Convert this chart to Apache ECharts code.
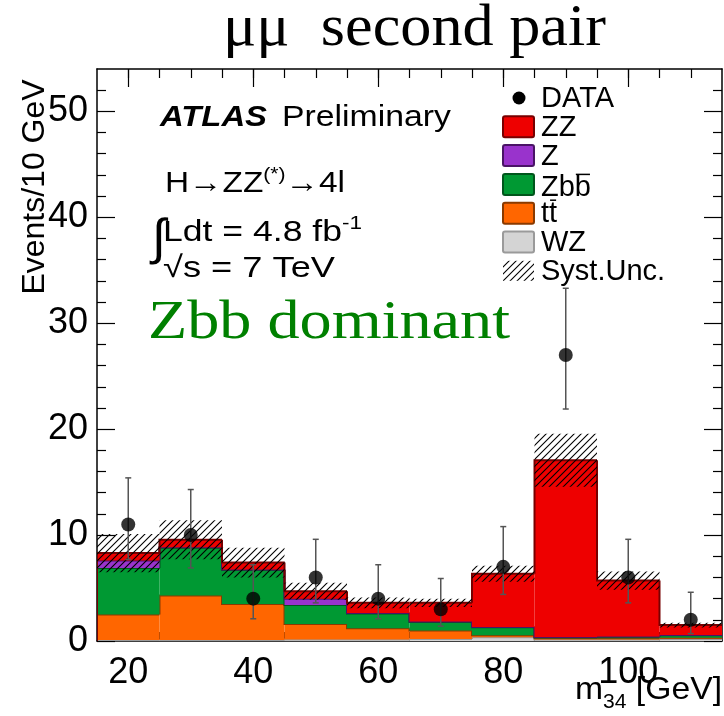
<!DOCTYPE html>
<html>
<head>
<meta charset="UTF-8">
<style>html,body{margin:0;padding:0;background:#fff;}</style>
</head>
<body>
<div id="chart_div" style="width:724px;height:716px;"></div>
<script src="https://cdn.jsdelivr.net/npm/echarts@6/dist/echarts.min.js"></script>
<script>
// bins of m34 (GeV)
var binCenters = [20, 30, 40, 50, 60, 70, 80, 90, 100, 110];
var binWidth = 10;

// expected events per bin
var wzEvents  = [0.1, 0.1, 0.1, 0.15, 0.15, 0.2, 0.35, 0.15, 0.15, 0.2];
var ttEvents  = [2.4, 4.2, 3.4, 1.45, 1.05, 0.8, 0.2, 0.1, 0.1, 0.1];
var zbbEvents = [4.4, 4.5, 3.2, 1.8, 1.4, 0.8, 0.75, 0.1, 0.15, 0.25];
var zEvents   = [0.7, 0.05, 0.05, 0.6, 0.05, 0.05, 0.02, 0.02, 0.02, 0.02];
var zzEvents  = [0.7, 0.71, 0.65, 0.7, 0.95, 1.75, 5.03, 16.7, 5.28, 0.93];
var systUnc   = [1.8, 1.84, 1.4, 0.8, 0.5, 0.4, 0.75, 2.5, 0.86, 0.23];

// observed data and error bar ends
var dataEvents = [11, 10, 4, 6, 4, 3, 7, 27, 6, 2];
var dataLow    = [7.7, 6.9, 2.1, 3.6, 2.1, 1.4, 4.4, 21.9, 3.6, 0.7];
var dataHigh   = [15.4, 14.3, 7.2, 9.6, 7.2, 5.9, 10.8, 33.3, 9.6, 4.6];

// ticks
var xLabels = [20, 40, 60, 80, 100];
var xMinor  = [20, 25, 30, 35, 40, 45, 50, 55, 60, 65, 70, 75, 80, 85, 90, 95, 100, 105, 110];
var yLabels = [0, 10, 20, 30, 40, 50];
var yMinor  = [2, 4, 6, 8, 12, 14, 16, 18, 22, 24, 26, 28, 32, 34, 36, 38, 42, 44, 46, 48, 52];

var SANS = '"Liberation Sans", Arial, sans-serif';
var SERIF = '"Liberation Serif", "Times New Roman", serif';

var myChart = echarts.init(document.getElementById('chart_div'));

// hatch pattern for the syst. band
var hatch = document.createElement('canvas');
hatch.width = 7; hatch.height = 7;
var hg = hatch.getContext('2d');
hg.strokeStyle = '#000'; hg.lineWidth = 1.1;
hg.beginPath();
hg.moveTo(0, 7); hg.lineTo(7, 0);
hg.moveTo(-1, 1); hg.lineTo(1, -1);
hg.moveTo(6, 8); hg.lineTo(8, 6);
hg.stroke();
var hatchFill = {image: hatch, repeat: 'repeat'};

// text measuring for the latex-like labels
var mctx = document.createElement('canvas').getContext('2d');
function textWidth(str, font) { mctx.font = font; return mctx.measureText(str).width; }

// pieces: [text, size, raise, style]
function textLine(pieces, x, baseline, width, family, color) {
	family = family || SANS;
	var fonts = pieces.map(p => (p[3] || '') + ' ' + p[1] + 'px ' + family);
	var natural = 0;
	pieces.forEach((p, i) => { natural += textWidth(p[0], fonts[i]); });
	var sx = width ? width / natural : 1;
	var out = [];
	pieces.forEach((p, i) => {
		out.push({
			type: 'text', x: x, y: baseline - p[2] - 0.35 * p[1], scaleX: sx, z: 100,
			style: {text: p[0], font: fonts[i], fill: color || '#000', textAlign: 'left', textVerticalAlign: 'middle'}
		});
		x += textWidth(p[0], fonts[i]) * sx;
	});
	return out;
}

// stacked components, bottom first
var components = [
	{name: 'WZ',  values: wzEvents,  fill: '#d4d4d4', line: '#9a9a9a'},
	{name: 'tt',  values: ttEvents,  fill: '#ff6600', line: '#8a3a00'},
	{name: 'Zbb', values: zbbEvents, fill: '#009933', line: '#00561c'},
	{name: 'Z',   values: zEvents,   fill: '#9933cc', line: '#4a1466'},
	{name: 'ZZ',  values: zzEvents,  fill: '#ee0000', line: '#780000'}
];

function stackItem(fill, line) {
	return function (params, api) {
		var c = api.value(0), lo = api.value(1), hi = api.value(2), prev = api.value(3);
		var a = api.coord([c - binWidth / 2, hi]);
		var b = api.coord([c + binWidth / 2, lo]);
		var p = api.coord([c - binWidth / 2, prev]);
		return {type: 'group', children: [
			{type: 'rect', shape: {x: a[0], y: a[1], width: b[0] - a[0], height: b[1] - a[1]}, style: {fill: fill}},
			{type: 'polyline', shape: {points: [[p[0], p[1]], [a[0], a[1]], [b[0], a[1]]]}, style: {stroke: line, lineWidth: 2, fill: null}}
		]};
	};
}

var series = [];
var base = binCenters.map(() => 0);
components.forEach(function (comp) {
	var top = base.map((v, i) => v + comp.values[i]);
	series.push({
		type: 'custom', name: comp.name, z: 2, clip: true,
		renderItem: stackItem(comp.fill, comp.line),
		data: binCenters.map((c, i) => [c, base[i], top[i], i > 0 ? top[i - 1] : 0])
	});
	base = top;
});
var total = base;

series.push({
	type: 'custom', name: 'Syst.Unc.', z: 3, clip: true,
	renderItem: function (params, api) {
		var a = api.coord([api.value(0) - binWidth / 2, api.value(2)]);
		var b = api.coord([api.value(0) + binWidth / 2, api.value(1)]);
		return {type: 'rect', shape: {x: a[0], y: a[1], width: b[0] - a[0], height: b[1] - a[1]}, style: {fill: hatchFill}};
	},
	data: binCenters.map((c, i) => [c, total[i] - systUnc[i], total[i] + systUnc[i]])
});

series.push({
	type: 'custom', name: 'errors', z: 4,
	renderItem: function (params, api) {
		var t = api.coord([api.value(0), api.value(2)]);
		var b = api.coord([api.value(0), api.value(1)]);
		var st = {stroke: '#555', lineWidth: 1.5};
		return {type: 'group', children: [
			{type: 'line', shape: {x1: t[0], y1: t[1], x2: b[0], y2: b[1]}, style: st},
			{type: 'line', shape: {x1: t[0] - 3, y1: t[1], x2: t[0] + 3, y2: t[1]}, style: st},
			{type: 'line', shape: {x1: b[0] - 3, y1: b[1], x2: b[0] + 3, y2: b[1]}, style: st}
		]};
	},
	data: binCenters.map((c, i) => [c, dataLow[i], dataHigh[i]])
});

series.push({
	type: 'scatter', name: 'DATA', z: 5, symbol: 'circle', symbolSize: 14,
	itemStyle: {color: '#000'},
	data: binCenters.map((c, i) => [c, dataEvents[i]])
});

function xAxisDef(pos, ticks, len, label) {
	return {
		type: 'value', position: pos, min: 15, max: 115,
		axisLine: {show: len > 10, onZero: false, lineStyle: {color: '#000', width: 1.5}},
		axisTick: {show: true, inside: true, length: len, customValues: ticks, lineStyle: {color: '#000', width: 1.2}},
		axisLabel: label ? {customValues: xLabels, fontSize: 36, fontFamily: SANS, color: '#000', margin: 14} : {show: false},
		splitLine: {show: false}
	};
}
function yAxisDef(pos, ticks, len, label) {
	return {
		type: 'value', position: pos, min: 0, max: 54,
		axisLine: {show: len > 10, onZero: false, lineStyle: {color: '#000', width: 1.5}},
		axisTick: {show: true, inside: true, length: len, customValues: ticks, lineStyle: {color: '#000', width: 1.2}},
		axisLabel: label ? {customValues: yLabels, fontSize: 36, fontFamily: SANS, color: '#000', margin: 9} : {show: false},
		splitLine: {show: false}
	};
}

// captions, axis titles and legend
var graphics = [];
graphics = graphics.concat(textLine([['μμ  second pair', 60, 0]], 223, 50, 383, SERIF));
graphics = graphics.concat(textLine([['Zbb dominant', 54, 0]], 148, 343, 362, SERIF, '#008000'));
graphics = graphics.concat(textLine([['ATLAS', 30, 0, 'italic bold']], 160, 128, 107));
graphics = graphics.concat(textLine([['Preliminary', 30, 0]], 282, 128, 169));
graphics = graphics.concat(textLine([['H→ZZ', 30, 0], ['(*)', 19, 13], ['→4l', 30, 0]], 165, 194, 180));
graphics = graphics.concat(textLine([['∫', 50, 0]], 152, 258, 0));
graphics = graphics.concat(textLine([['Ldt = 4.8 fb', 30, 0], ['-1', 19, 13]], 163, 243, 199));
graphics = graphics.concat(textLine([['√s = 7 TeV', 30, 0]], 163, 279, 172));
graphics = graphics.concat(textLine([['m', 32, 0], ['34', 20, -8], [' [GeV]', 32, 0]], 575, 701, 147));
graphics.push({
	type: 'text', x: 35, y: 187, rotation: Math.PI / 2, z: 100,
	style: {text: 'Events/10 GeV', font: '32px ' + SANS, fill: '#000', textAlign: 'center', textVerticalAlign: 'middle'}
});

var legendRows = [
	{label: 'DATA'},
	{label: 'ZZ', comp: 4},
	{label: 'Z', comp: 3},
	{label: 'Zbb', comp: 2},
	{label: 'tt', comp: 1},
	{label: 'WZ', comp: 0},
	{label: 'Syst.Unc.', hatch: true}
];
var legFont = '29px ' + SANS;
legendRows.forEach(function (row, i) {
	var cy = 98 + 28.8 * i;
	if (i === 0) {
		graphics.push({type: 'circle', shape: {cx: 519, cy: cy, r: 6.5}, style: {fill: '#000'}, z: 100});
	} else if (row.hatch) {
		graphics.push({type: 'rect', shape: {x: 503, y: cy - 10, width: 31, height: 20}, style: {fill: hatchFill}, z: 100});
	} else {
		var comp = components[row.comp];
		graphics.push({type: 'rect', shape: {x: 503, y: cy - 10.5, width: 31, height: 21, r: 2},
			style: {fill: comp.fill, stroke: comp.line, lineWidth: 2}, z: 100});
	}
	var ty = cy + (row.label === 'Zbb' ? 4 : 1);
	graphics.push({type: 'text', x: 541, y: ty, z: 100,
		style: {text: row.label, font: legFont, fill: '#000', textAlign: 'left', textVerticalAlign: 'middle'}});
	if (row.label === 'Zbb' || row.label === 'tt') {
		var pre = row.label.slice(0, -1);
		var x0 = 541 + textWidth(pre, legFont) + 1;
		var x1 = 541 + textWidth(row.label, legFont) - 1;
		graphics.push({type: 'line', shape: {x1: x0, y1: ty - 14, x2: x1, y2: ty - 14}, style: {stroke: '#000', lineWidth: 1.5}, z: 100});
	}
});

var option = {
	animation: false,
	backgroundColor: '#fff',
	grid: {left: 97, top: 69, width: 625, height: 572},
	xAxis: [
		xAxisDef('bottom', xLabels, 18, true),
		xAxisDef('bottom', xMinor, 9, false),
		xAxisDef('top', xLabels, 18, false),
		xAxisDef('top', xMinor, 9, false)
	],
	yAxis: [
		yAxisDef('left', yLabels, 18, true),
		yAxisDef('left', yMinor, 9, false),
		yAxisDef('right', yLabels, 18, false),
		yAxisDef('right', yMinor, 9, false)
	],
	series: series,
	graphic: {elements: graphics}
};
myChart.setOption(option);
</script>
</body>
</html>
